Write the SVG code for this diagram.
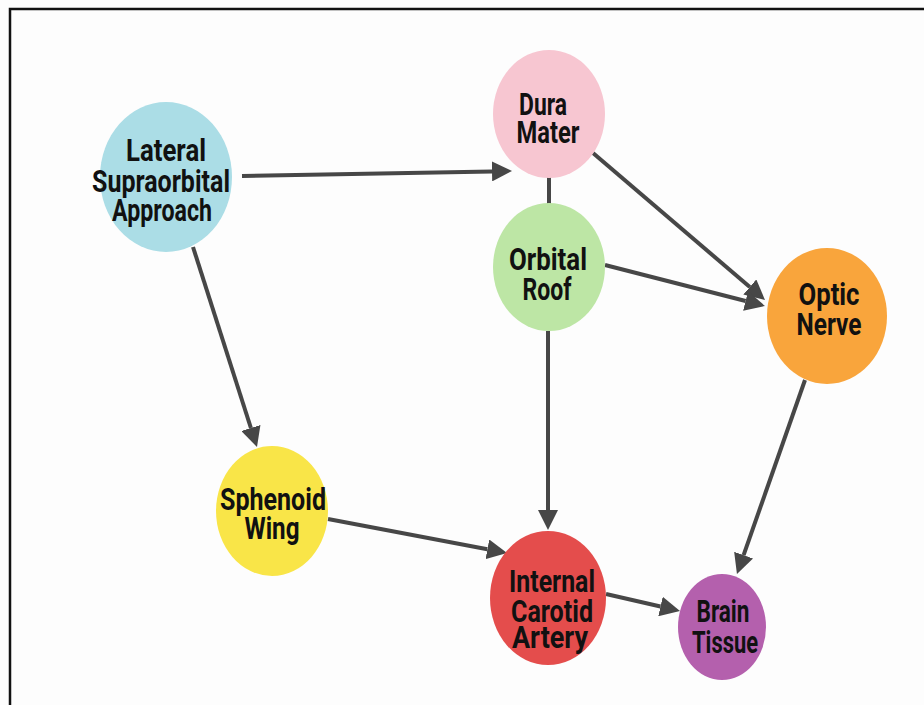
<svg xmlns="http://www.w3.org/2000/svg" width="924" height="705" viewBox="0 0 924 705">
<defs>
<marker id="ah" markerUnits="userSpaceOnUse" markerWidth="20" markerHeight="20" refX="0" refY="10" orient="auto" viewBox="0 0 20 20">
<path d="M0,0 L20,10 L0,20 z" fill="#474747"/>
</marker>
<style>
.e{stroke:#474747;stroke-width:4;fill:none}
.a{marker-end:url(#ah)}
.t{font-family:"Roboto","Liberation Sans",sans-serif;font-weight:bold;font-size:30.5px;fill:#111;text-anchor:middle}
</style>
</defs>
<rect width="924" height="705" fill="#fdfdfd"/>
<path d="M10,705 L10,9 L924,9" fill="none" stroke="#111" stroke-width="2.5"/>
<g id="connectors">
<line class="e a" x1="242" y1="176" x2="492" y2="171.4"/>
<line class="e a" x1="193" y1="247" x2="250.9" y2="428"/>
<line class="e" x1="549" y1="176" x2="549" y2="206"/>
<line class="e a" x1="593" y1="153" x2="749.8" y2="287"/>
<line class="e a" x1="605" y1="265" x2="745.6" y2="301"/>
<line class="e a" x1="548" y1="331" x2="548" y2="510"/>
<line class="e a" x1="328" y1="519" x2="487.4" y2="549.3"/>
<line class="e a" x1="606" y1="594" x2="660.5" y2="606.5"/>
<line class="e a" x1="805" y1="380" x2="743.6" y2="555.1"/>
</g>
<g id="lsa">
<ellipse cx="166" cy="177" rx="66" ry="75" fill="#abdde6"/>
<text class="t" x="166" y="161" textLength="80" lengthAdjust="spacingAndGlyphs">Lateral</text>
<text class="t" x="161" y="192" textLength="138" lengthAdjust="spacingAndGlyphs">Supraorbital</text>
<text class="t" x="162" y="221" textLength="100" lengthAdjust="spacingAndGlyphs">Approach</text>
</g>
<g id="dura">
<ellipse cx="549" cy="114" rx="56" ry="64" fill="#f7c6d1"/>
<text class="t" x="543" y="115" textLength="48" lengthAdjust="spacingAndGlyphs">Dura</text>
<text class="t" x="548" y="143" textLength="63" lengthAdjust="spacingAndGlyphs">Mater</text>
</g>
<g id="orbital">
<ellipse cx="549" cy="267" rx="56" ry="64" fill="#bde6a5"/>
<text class="t" x="548" y="270" textLength="78" lengthAdjust="spacingAndGlyphs">Orbital</text>
<text class="t" x="547" y="300" textLength="49" lengthAdjust="spacingAndGlyphs">Roof</text>
</g>
<g id="optic">
<ellipse cx="827" cy="316" rx="60" ry="68" fill="#f9a53c"/>
<text class="t" x="829" y="305" textLength="61" lengthAdjust="spacingAndGlyphs">Optic</text>
<text class="t" x="829" y="335" textLength="65" lengthAdjust="spacingAndGlyphs">Nerve</text>
</g>
<g id="sphenoid">
<ellipse cx="272" cy="511" rx="56" ry="65" fill="#f9e548"/>
<text class="t" x="273" y="510" textLength="106" lengthAdjust="spacingAndGlyphs">Sphenoid</text>
<text class="t" x="272" y="539" textLength="55" lengthAdjust="spacingAndGlyphs">Wing</text>
</g>
<g id="ica">
<ellipse cx="548" cy="598" rx="58" ry="67" fill="#e44d4c"/>
<text class="t" x="552" y="592" textLength="86" lengthAdjust="spacingAndGlyphs">Internal</text>
<text class="t" x="552" y="622" textLength="82" lengthAdjust="spacingAndGlyphs">Carotid</text>
<text class="t" x="550" y="648" textLength="76" lengthAdjust="spacingAndGlyphs">Artery</text>
</g>
<g id="brain">
<ellipse cx="722" cy="627" rx="44" ry="53" fill="#b460ad"/>
<text class="t" x="723" y="622" textLength="53" lengthAdjust="spacingAndGlyphs">Brain</text>
<text class="t" x="725" y="653" textLength="66" lengthAdjust="spacingAndGlyphs">Tissue</text>
</g>
</svg>
